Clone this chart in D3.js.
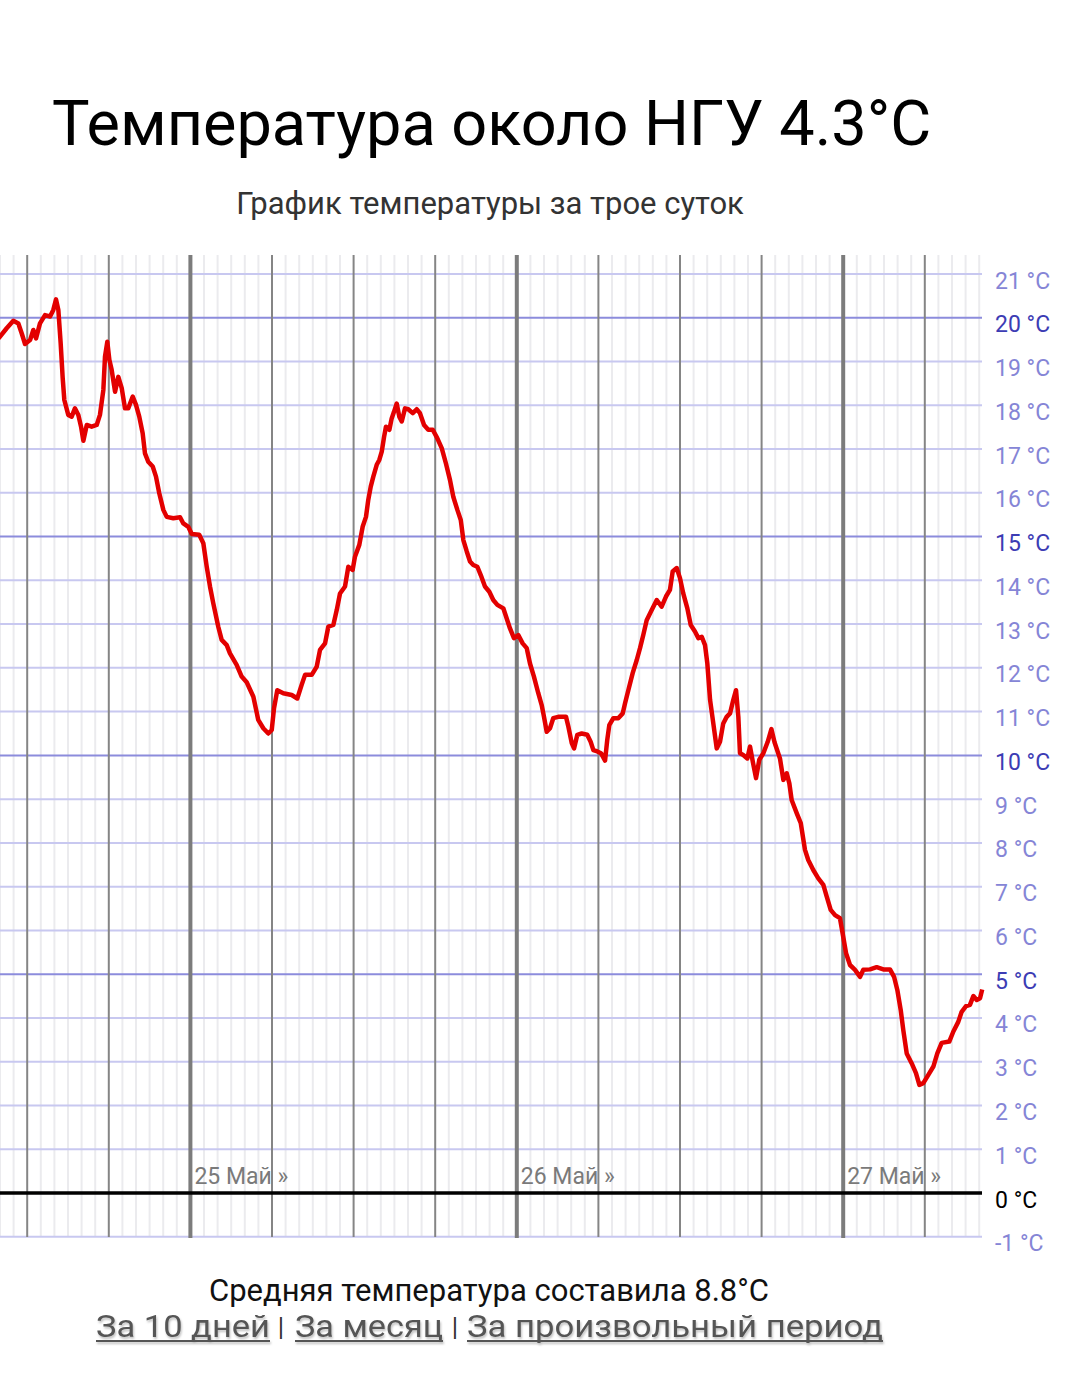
<!DOCTYPE html>
<html>
<head>
<meta charset="utf-8">
<script src="https://cdn.jsdelivr.net/npm/d3@7"></script>
<style>
  html, body { margin: 0; padding: 0; background: #fff; }
  svg { display: block; font-family: Roboto, "Noto Sans", sans-serif; }
</style>
</head>
<body>
<svg id="chart" width="1080" height="1373"></svg>
<script>
// ---- data ----
const titleText = "Температура около НГУ 4.3°C";
const subtitleText = "График температуры за трое суток";
const footerText = "Средняя температура составила 8.8°C";
const linkLabels = ["За 10 дней", "За месяц", "За произвольный период"];

// hours since 24 May 10:00
const hours = [0.00,0.49,0.98,1.35,1.60,1.84,2.21,2.45,2.65,2.94,3.31,3.68,3.92,4.12,4.29,4.46,4.61,4.73,5.02,5.27,5.51,5.76,5.96,6.13,6.38,6.74,7.11,7.35,7.60,7.72,7.89,8.04,8.21,8.46,8.70,8.95,9.19,9.43,9.76,10.00,10.24,10.49,10.66,10.90,11.23,11.47,11.71,12.01,12.26,12.74,13.24,13.48,13.85,14.10,14.65,14.95,15.20,15.44,15.68,16.05,16.30,16.67,16.91,17.40,17.77,18.14,18.63,18.99,19.36,19.73,19.98,20.15,20.39,20.83,21.45,21.86,22.18,22.43,22.92,23.29,23.53,23.90,24.14,24.51,24.76,25.00,25.37,25.61,25.93,26.10,26.42,26.67,26.91,27.08,27.26,27.45,27.70,27.89,28.07,28.24,28.38,28.63,28.80,28.97,29.17,29.36,29.54,29.78,30.02,30.35,30.64,30.88,31.18,31.49,31.82,32.15,32.48,32.79,33.09,33.33,33.63,33.88,34.07,34.32,34.56,34.80,35.10,35.35,35.66,35.98,36.27,36.57,37.01,37.13,37.50,37.79,38.11,38.43,38.73,38.97,39.26,39.58,39.83,40.00,40.20,40.44,40.68,41.05,41.62,41.79,42.04,42.21,42.45,42.77,43.18,43.43,43.63,43.92,44.19,44.49,44.65,44.80,45.10,45.46,45.79,45.96,46.20,46.52,46.82,47.06,47.30,47.55,47.92,48.29,48.65,48.97,49.26,49.46,49.76,50.00,50.24,50.54,50.79,51.10,51.35,51.60,51.84,52.01,52.21,52.45,52.70,52.94,53.18,53.43,53.68,53.92,54.12,54.29,54.41,54.65,54.95,55.15,55.35,55.59,55.83,56.13,56.45,56.72,56.95,57.35,57.60,57.85,58.04,58.21,58.58,58.88,59.19,59.43,59.80,60.17,60.54,60.79,61.08,61.40,61.76,61.96,62.21,62.50,62.87,63.24,63.48,63.97,64.46,64.95,65.44,65.74,65.98,66.23,66.42,66.67,67.04,67.35,67.60,67.89,68.26,68.63,68.92,69.24,69.80,70.10,70.46,70.71,71.03,71.32,71.57,71.82,72.06,72.18];
const temps = [19.57,19.76,19.93,19.87,19.64,19.40,19.49,19.72,19.53,19.87,20.06,20.03,20.18,20.42,20.18,19.42,18.62,18.12,17.78,17.74,17.93,17.78,17.51,17.19,17.55,17.51,17.55,17.78,18.35,19.11,19.45,19.04,18.81,18.31,18.65,18.39,17.93,17.93,18.20,18.01,17.74,17.36,16.90,16.71,16.60,16.37,15.99,15.61,15.45,15.42,15.44,15.30,15.22,15.06,15.04,14.85,14.31,13.86,13.48,12.94,12.64,12.52,12.33,12.07,11.80,11.67,11.34,10.81,10.62,10.50,10.58,11.08,11.49,11.42,11.38,11.30,11.61,11.84,11.84,12.03,12.41,12.56,12.94,12.98,13.32,13.70,13.86,14.31,14.24,14.54,14.81,15.23,15.45,15.84,16.14,16.37,16.64,16.75,16.94,17.28,17.51,17.44,17.70,17.85,18.04,17.74,17.63,17.93,17.91,17.82,17.91,17.82,17.55,17.44,17.44,17.25,17.02,16.67,16.29,15.91,15.61,15.38,14.92,14.66,14.43,14.35,14.31,14.12,13.86,13.74,13.55,13.44,13.36,13.25,12.90,12.68,12.75,12.56,12.45,12.10,11.80,11.42,11.15,10.88,10.54,10.62,10.85,10.88,10.88,10.66,10.28,10.16,10.47,10.50,10.47,10.31,10.12,10.09,10.05,9.88,10.35,10.69,10.85,10.85,10.96,11.19,11.49,11.88,12.18,12.45,12.75,13.09,13.32,13.55,13.40,13.63,13.78,14.20,14.28,14.05,13.70,13.36,12.98,12.83,12.68,12.71,12.52,12.10,11.27,10.73,10.16,10.31,10.73,10.88,10.96,11.27,11.49,10.88,10.05,10.01,9.93,10.20,9.86,9.48,9.90,10.05,10.31,10.60,10.30,9.93,9.44,9.59,9.36,8.98,8.68,8.45,7.84,7.61,7.38,7.19,7.04,6.77,6.47,6.35,6.28,5.93,5.48,5.21,5.10,4.94,5.10,5.11,5.16,5.11,5.11,4.94,4.64,4.18,3.72,3.19,2.96,2.74,2.47,2.51,2.70,2.89,3.19,3.43,3.46,3.69,3.91,4.14,4.27,4.30,4.50,4.41,4.45,4.60];

const yTickValues = d3.range(-1, 22);          // -1 .. 21 °C
const dayLabels = ["25 Май »", "26 Май »", "27 Май »"];
const dayLabelHours = [14, 38, 62];              // midnight positions
const startClockHour = 10;                       // window starts 24 May 10:00
const totalHours = 72;

// ---- layout ----
const svg = d3.select("#chart");
const plotLeft = 0, plotRight = 979.2, plotTop = 255, plotBottom = 1237;
const x = d3.scaleLinear().domain([0, totalHours]).range([plotLeft, plotRight]);
const y = d3.scaleLinear().domain([0, 21]).range([1193, 274]);

// titles
svg.append("text").attr("x", 52).attr("y", 145)
  .attr("font-size", 63).attr("fill", "#000").text(titleText);
svg.append("text").attr("x", 490).attr("y", 214).attr("text-anchor", "middle")
  .attr("font-size", 31).attr("fill", "#333").text(subtitleText);

const grid = svg.append("g");
const hourTicks = d3.range(0, totalHours + 1);
const clockOf = h => (startClockHour + h) % 24;

// light hourly lines
grid.selectAll("line.hr").data(hourTicks.filter(h => clockOf(h) % 6 !== 0)).join("line")
  .attr("x1", d => x(d)).attr("x2", d => x(d))
  .attr("y1", plotTop).attr("y2", plotBottom)
  .attr("stroke", "#ebebee").attr("stroke-width", 2);

// horizontal lines
grid.selectAll("line.h").data(yTickValues.filter(v => v !== 0)).join("line")
  .attr("x1", plotLeft).attr("x2", 982)
  .attr("y1", d => y(d)).attr("y2", d => y(d))
  .attr("stroke", d => d % 5 === 0 ? "#8c8cdc" : "#c8c8f0")
  .attr("stroke-width", 2);

// 6-hour lines
grid.selectAll("line.six").data(hourTicks.filter(h => clockOf(h) % 6 === 0 && clockOf(h) !== 0)).join("line")
  .attr("x1", d => x(d)).attr("x2", d => x(d))
  .attr("y1", plotTop).attr("y2", plotBottom)
  .attr("stroke", "#858585").attr("stroke-width", 2);

// day lines
grid.selectAll("line.day").data(hourTicks.filter(h => clockOf(h) === 0)).join("line")
  .attr("x1", d => x(d)).attr("x2", d => x(d))
  .attr("y1", plotTop).attr("y2", plotBottom + 1)
  .attr("stroke", "#7c7c7c").attr("stroke-width", 4);

// zero line
grid.append("line").attr("x1", plotLeft).attr("x2", 982)
  .attr("y1", y(0)).attr("y2", y(0))
  .attr("stroke", "#000").attr("stroke-width", 3.5);

// day labels
svg.selectAll("text.day").data(dayLabels).join("text")
  .attr("x", (d, i) => x(dayLabelHours[i]) + 4)
  .attr("y", y(0) - 9)
  .attr("font-size", 23).attr("fill", "#7a7a7a").text(d => d);

// y labels
svg.selectAll("text.yl").data(yTickValues).join("text")
  .attr("x", 995).attr("y", d => y(d) + 14.5)
  .attr("font-size", 23)
  .attr("fill", d => d === 0 ? "#000" : (d % 5 === 0 ? "#3c3cb4" : "#8585d6"))
  .text(d => d + " °C");

// temperature line
const line = d3.line().x((d, i) => x(hours[i])).y(d => y(d)).curve(d3.curveLinear);
svg.append("path").datum(temps)
  .attr("d", line).attr("fill", "none")
  .attr("stroke", "#e30000").attr("stroke-width", 4.5)
  .attr("stroke-linejoin", "round").attr("stroke-linecap", "square");

// footer
svg.append("text").attr("x", 489).attr("y", 1301).attr("text-anchor", "middle")
  .attr("font-size", 31).attr("fill", "#111").text(footerText);

const defs = svg.append("defs");
const f = defs.append("filter").attr("id", "sh").attr("x", "-5%").attr("y", "-20%").attr("width", "110%").attr("height", "160%");
f.append("feDropShadow").attr("dx", 1).attr("dy", 2).attr("stdDeviation", 1).attr("flood-color", "#000").attr("flood-opacity", 0.25);

const linkStarts = [96, 295, 467];
const linkWidths = [174, 148, 416];
const sepX = [281, 455];
const linkY = 1337;
linkLabels.forEach((t, i) => {
  const g = svg.append("g").attr("filter", "url(#sh)");
  g.append("text").attr("x", linkStarts[i]).attr("y", linkY)
    .attr("font-size", 32).attr("fill", "#555")
    .attr("textLength", linkWidths[i]).attr("lengthAdjust", "spacingAndGlyphs")
    .text(t);
  g.append("line").attr("x1", linkStarts[i]).attr("x2", linkStarts[i] + linkWidths[i])
    .attr("y1", linkY + 4).attr("y2", linkY + 4)
    .attr("stroke", "#555").attr("stroke-width", 2);
});
sepX.forEach(sx => {
  svg.append("text").attr("x", sx).attr("y", linkY - 1).attr("text-anchor", "middle")
    .attr("font-size", 26).attr("fill", "#333").text("|");
});
</script>
</body>
</html>
